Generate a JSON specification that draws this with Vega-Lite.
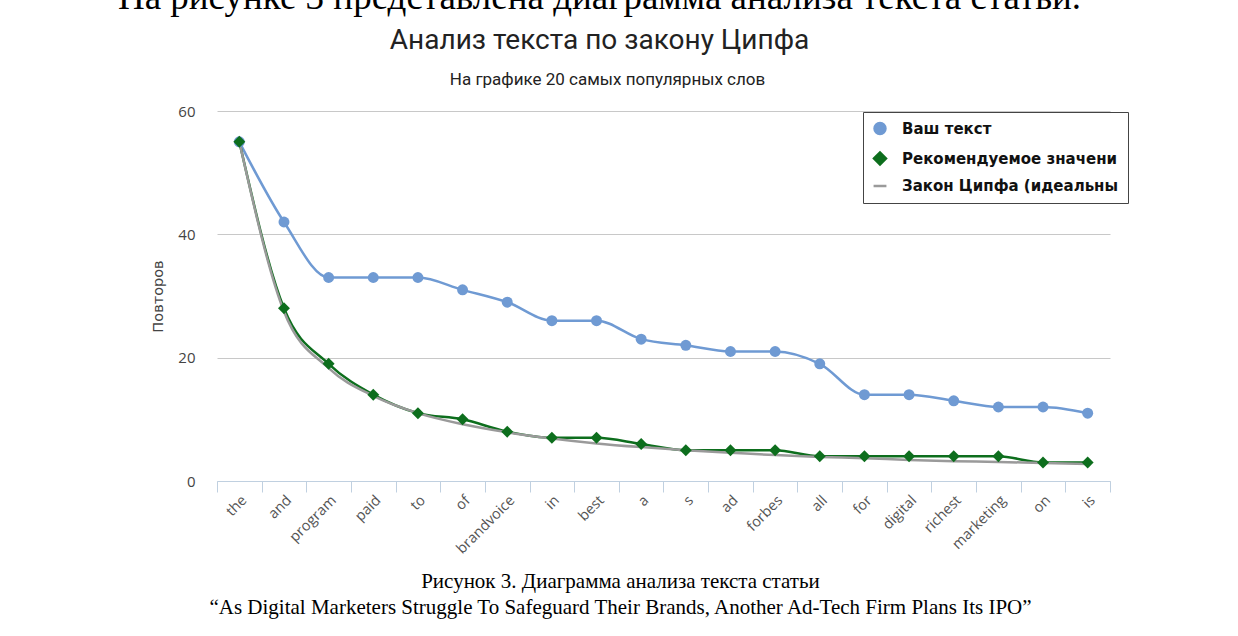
{
  "$schema": "https://vega.github.io/schema/vega-lite/v6.json",
  "width": 893,
  "height": 370,
  "autosize": {"type": "none"},
  "padding": {"left": 217, "top": 111, "right": 128, "bottom": 155},
  "background": "white",
  "title": {
    "text": "На рисунке 3 представлена диаграмма анализа текста статьи.",
    "subtitle": "Анализ текста по закону Ципфа",
    "anchor": "middle",
    "frame": "group",
    "dx": -64,
    "font": "Liberation Serif",
    "fontSize": 37,
    "fontWeight": "normal",
    "color": "#000000",
    "subtitleFont": "Roboto",
    "subtitleFontSize": 28,
    "subtitleFontWeight": "normal",
    "subtitleColor": "#222222",
    "subtitlePadding": 10,
    "offset": 14
  },
  "data": {
    "values": [
      {"word": "the", "series": "Ваш текст", "value": 55},
      {"word": "and", "series": "Ваш текст", "value": 42},
      {"word": "program", "series": "Ваш текст", "value": 33},
      {"word": "paid", "series": "Ваш текст", "value": 33},
      {"word": "to", "series": "Ваш текст", "value": 33},
      {"word": "of", "series": "Ваш текст", "value": 31},
      {"word": "brandvoice", "series": "Ваш текст", "value": 29},
      {"word": "in", "series": "Ваш текст", "value": 26},
      {"word": "best", "series": "Ваш текст", "value": 26},
      {"word": "a", "series": "Ваш текст", "value": 23},
      {"word": "s", "series": "Ваш текст", "value": 22},
      {"word": "ad", "series": "Ваш текст", "value": 21},
      {"word": "forbes", "series": "Ваш текст", "value": 21},
      {"word": "all", "series": "Ваш текст", "value": 19},
      {"word": "for", "series": "Ваш текст", "value": 14},
      {"word": "digital", "series": "Ваш текст", "value": 14},
      {"word": "richest", "series": "Ваш текст", "value": 13},
      {"word": "marketing", "series": "Ваш текст", "value": 12},
      {"word": "on", "series": "Ваш текст", "value": 12},
      {"word": "is", "series": "Ваш текст", "value": 11},
      {"word": "the", "series": "Рекомендуемое значение", "value": 55},
      {"word": "and", "series": "Рекомендуемое значение", "value": 28},
      {"word": "program", "series": "Рекомендуемое значение", "value": 19},
      {"word": "paid", "series": "Рекомендуемое значение", "value": 14},
      {"word": "to", "series": "Рекомендуемое значение", "value": 11},
      {"word": "of", "series": "Рекомендуемое значение", "value": 10},
      {"word": "brandvoice", "series": "Рекомендуемое значение", "value": 8},
      {"word": "in", "series": "Рекомендуемое значение", "value": 7},
      {"word": "best", "series": "Рекомендуемое значение", "value": 7},
      {"word": "a", "series": "Рекомендуемое значение", "value": 6},
      {"word": "s", "series": "Рекомендуемое значение", "value": 5},
      {"word": "ad", "series": "Рекомендуемое значение", "value": 5},
      {"word": "forbes", "series": "Рекомендуемое значение", "value": 5},
      {"word": "all", "series": "Рекомендуемое значение", "value": 4},
      {"word": "for", "series": "Рекомендуемое значение", "value": 4},
      {"word": "digital", "series": "Рекомендуемое значение", "value": 4},
      {"word": "richest", "series": "Рекомендуемое значение", "value": 4},
      {"word": "marketing", "series": "Рекомендуемое значение", "value": 4},
      {"word": "on", "series": "Рекомендуемое значение", "value": 3},
      {"word": "is", "series": "Рекомендуемое значение", "value": 3},
      {"word": "the", "series": "Закон Ципфа (идеальный)", "value": 55},
      {"word": "and", "series": "Закон Ципфа (идеальный)", "value": 27.5},
      {"word": "program", "series": "Закон Ципфа (идеальный)", "value": 18.3},
      {"word": "paid", "series": "Закон Ципфа (идеальный)", "value": 13.8},
      {"word": "to", "series": "Закон Ципфа (идеальный)", "value": 11},
      {"word": "of", "series": "Закон Ципфа (идеальный)", "value": 9.2},
      {"word": "brandvoice", "series": "Закон Ципфа (идеальный)", "value": 7.9},
      {"word": "in", "series": "Закон Ципфа (идеальный)", "value": 6.9},
      {"word": "best", "series": "Закон Ципфа (идеальный)", "value": 6.1},
      {"word": "a", "series": "Закон Ципфа (идеальный)", "value": 5.5},
      {"word": "s", "series": "Закон Ципфа (идеальный)", "value": 5},
      {"word": "ad", "series": "Закон Ципфа (идеальный)", "value": 4.6},
      {"word": "forbes", "series": "Закон Ципфа (идеальный)", "value": 4.2},
      {"word": "all", "series": "Закон Ципфа (идеальный)", "value": 3.9},
      {"word": "for", "series": "Закон Ципфа (идеальный)", "value": 3.7},
      {"word": "digital", "series": "Закон Ципфа (идеальный)", "value": 3.4},
      {"word": "richest", "series": "Закон Ципфа (идеальный)", "value": 3.2},
      {"word": "marketing", "series": "Закон Ципфа (идеальный)", "value": 3.1},
      {"word": "on", "series": "Закон Ципфа (идеальный)", "value": 2.9},
      {"word": "is", "series": "Закон Ципфа (идеальный)", "value": 2.75}
    ]
  },
  "layer": [
    {
      "mark": {"type": "line", "interpolate": "monotone"},
      "encoding": {
        "x": {
          "field": "word",
          "type": "nominal",
          "sort": ["the", "and", "program", "paid", "to", "of", "brandvoice", "in", "best", "a", "s", "ad", "forbes", "all", "for", "digital", "richest", "marketing", "on", "is"],
          "scale": {"paddingInner": 0, "paddingOuter": 0},
          "axis": {
            "orient": "bottom",
            "labelAngle": -45,
            "labelFont": "Open Sans",
            "labelFontSize": 14.5,
            "labelColor": "#555555",
            "labelPadding": 1,
            "domainColor": "#c0d0e0",
            "tickColor": "#c0d0e0",
            "tickSize": 11,
            "tickBand": "extent",
            "grid": false,
            "title": ["Рисунок 3. Диаграмма анализа текста статьи", "“As Digital Marketers Struggle To Safeguard Their Brands, Another Ad-Tech Firm Plans Its IPO”"],
            "titleFont": "Liberation Serif",
            "titleFontSize": 21,
            "titleFontWeight": "normal",
            "titleColor": "#000000",
            "titleX": 403,
            "titleY": 106,
            "titleAlign": "center",
            "titleBaseline": "alphabetic",
            "titleLineHeight": 26
          }
        },
        "y": {
          "field": "value",
          "type": "quantitative",
          "scale": {"domain": [0, 60], "nice": false},
          "axis": {
            "values": [0, 20, 40, 60],
            "grid": true,
            "gridColor": "#c8c8c8",
            "domain": false,
            "ticks": false,
            "labelPadding": 22,
            "labelFont": "Open Sans",
            "labelFontSize": 15,
            "labelColor": "#444444",
            "title": "Повторов",
            "titleFont": "DejaVu Sans",
            "titleFontSize": 14.5,
            "titleFontWeight": "normal",
            "titleColor": "#444444",
            "titlePadding": 12
          }
        },
        "color": {
          "field": "series",
          "type": "nominal",
          "scale": {
            "domain": ["Ваш текст", "Рекомендуемое значение", "Закон Ципфа (идеальный)"],
            "range": ["#6f9ad3", "#0d6e1d", "#9a9a9a"]
          },
          "legend": {"title": null, "labelExpr": "substring(datum.label, 0, 21)"}
        },
        "strokeWidth": {
          "field": "series",
          "type": "nominal",
          "scale": {
            "domain": ["Ваш текст", "Рекомендуемое значение", "Закон Ципфа (идеальный)"],
            "range": [2.5, 2.5, 1.2]
          },
          "legend": null
        }
      }
    },
    {
      "transform": [{"filter": "datum.series !== 'Закон Ципфа (идеальный)'"}],
      "mark": {"type": "point", "filled": true, "opacity": 1},
      "encoding": {
        "x": {
          "field": "word",
          "type": "nominal",
          "sort": ["the", "and", "program", "paid", "to", "of", "brandvoice", "in", "best", "a", "s", "ad", "forbes", "all", "for", "digital", "richest", "marketing", "on", "is"],
          "axis": {
            "orient": "top",
            "labels": false,
            "ticks": false,
            "domain": false,
            "grid": false,
            "title": "На графике 20 самых популярных слов",
            "titleFont": "Roboto",
            "titleFontSize": 17,
            "titleFontWeight": "normal",
            "titleColor": "#222222",
            "titleX": 390,
            "titleY": -27,
            "titleAlign": "center",
            "titleBaseline": "alphabetic"
          }
        },
        "y": {"field": "value", "type": "quantitative"},
        "color": {"field": "series", "type": "nominal", "legend": {"title": null, "labelExpr": "substring(datum.label, 0, 21)"}},
        "shape": {
          "field": "series",
          "type": "nominal",
          "scale": {
            "domain": ["Ваш текст", "Рекомендуемое значение", "Закон Ципфа (идеальный)"],
            "range": ["circle", "diamond", "stroke"]
          },
          "legend": {"title": null, "labelExpr": "substring(datum.label, 0, 21)"}
        },
        "size": {
          "field": "series",
          "type": "nominal",
          "scale": {
            "domain": ["Ваш текст", "Рекомендуемое значение", "Закон Ципфа (идеальный)"],
            "range": [120, 165, 0]
          },
          "legend": null
        }
      }
    }
  ],
  "resolve": {"axis": {"x": "independent"}},
  "config": {
    "view": {"stroke": null},
    "legend": {
      "orient": "none",
      "legendX": 646,
      "legendY": 1,
      "strokeColor": "#444444",
      "fillColor": "#ffffff",
      "padding": 9,
      "rowPadding": 8,
      "symbolSize": 130,
      "symbolStrokeWidth": 2.5,
      "labelFont": "DejaVu Sans",
      "labelFontSize": 15,
      "labelFontWeight": "bold",
      "labelColor": "#111111",
      "labelOffset": 14,
      "labelLimit": 400
    }
  }
}
